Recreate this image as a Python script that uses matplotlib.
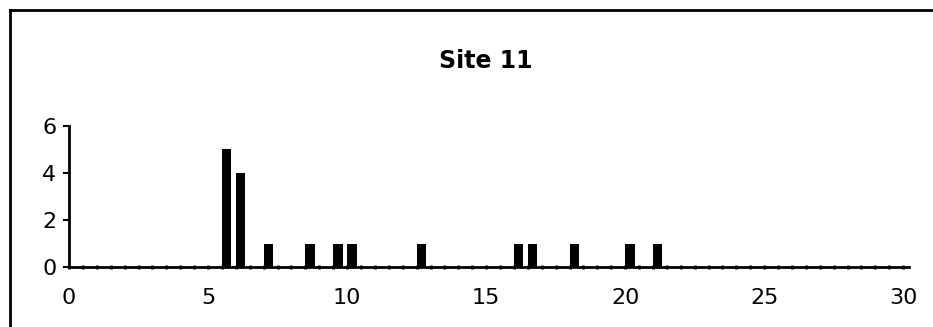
import matplotlib.pyplot as plt
from matplotlib.lines import Line2D
from matplotlib.ticker import MultipleLocator

# values
positions = [5.5, 6, 7, 8.5, 9.5, 10, 12.5, 16, 16.5, 18, 20, 21]
counts = [5, 4, 1, 1, 1, 1, 1, 1, 1, 1, 1, 1]
x_ticks = [0, 5, 10, 15, 20, 25, 30]
y_ticks = [0, 2, 4, 6]
title = "Site 11"

plt.rcParams['font.family'] = ['DejaVu Sans']

fig = plt.figure(figsize=(9.33, 3.27), dpi=100)
ax = fig.add_axes([0.074, 0.183, 0.9, 0.432])

ax.bar(positions, counts, width=0.34, align='edge', color='black')

ax.set_xlim(0, 30.2)
ax.set_ylim(0, 6)
ax.set_xticks(x_ticks)
ax.set_yticks(y_ticks)
ax.xaxis.set_minor_locator(MultipleLocator(0.5))

for side in ['top', 'right']:
    ax.spines[side].set_visible(False)
for side in ['left', 'bottom']:
    ax.spines[side].set_linewidth(2)
    ax.spines[side].set_color('black')

ax.tick_params(axis='x', which='both', direction='inout', length=3.5, width=1.8,
               labelsize=16, pad=13)
ax.tick_params(axis='y', which='major', direction='out', length=4, width=1.5,
               labelsize=16, pad=5)

fig.text(0.521, 0.813, title, ha='center', va='center',
         fontsize=17, fontweight='bold')

# frame left over from the scanned page
fig.add_artist(Line2D([0.0107, 0.0107], [0, 0.968], color='black', lw=2,
                      transform=fig.transFigure))
fig.add_artist(Line2D([0.0107, 1.0], [0.968, 0.968], color='black', lw=2,
                      transform=fig.transFigure))

fig.savefig("out.png", dpi=100)
